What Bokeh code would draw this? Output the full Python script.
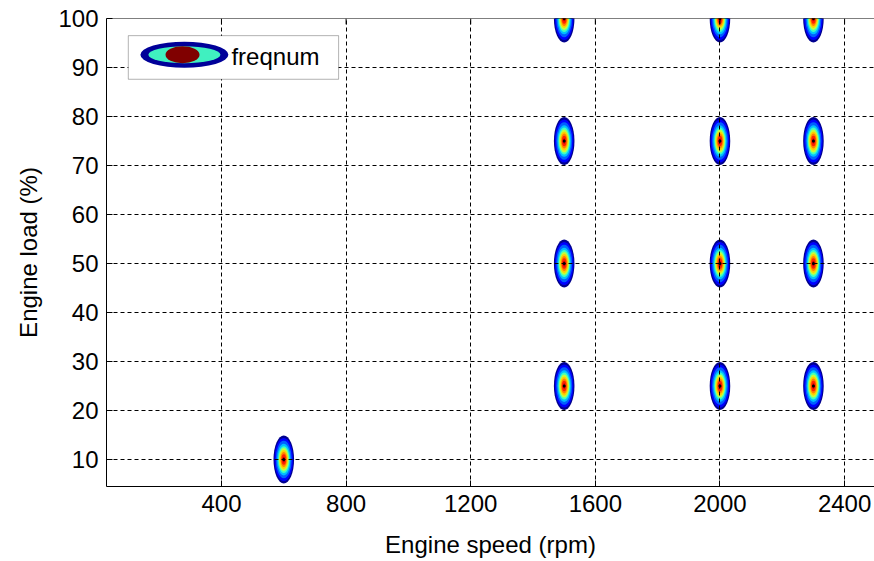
from bokeh.plotting import figure
from bokeh.models import Range1d, FixedTicker, BoxAnnotation, Label, Span
from bokeh.embed import file_html
from bokeh.resources import INLINE

# ---- data ----
speed = [600, 1500, 1500, 1500, 1500, 2000, 2000, 2000, 2000, 2300, 2300, 2300, 2300]
load = [10, 25, 50, 75, 100, 25, 50, 75, 100, 25, 50, 75, 100]
x_ticks = [400, 800, 1200, 1600, 2000, 2400]
y_ticks = [10, 20, 30, 40, 50, 60, 70, 80, 90, 100]
legend_label = "freqnum"
x_label = "Engine speed (rpm)"
y_label = "Engine load (%)"

# ---- styles ----
FONT = "Liberation Sans"
FS = "24px"
X0, X1 = 31, 2496
Y0, Y1 = 4.5, 100
BLOB_W = 66.0     # rpm
BLOB_H = 9.8      # %
TICK_LEN = 1.2    # top tick length in load units (~6 px)
levels = [(1.00, "#00008F"), (0.90, "#0000FF"), (0.78, "#0060FF"), (0.66, "#00BFFF"),
          (0.56, "#40FFBF"), (0.48, "#BFFF40"), (0.40, "#FFCF00"), (0.31, "#FF8000"),
          (0.22, "#FF2000"), (0.12, "#C00000")]

p = figure(width=874, height=561, x_range=Range1d(X0, X1), y_range=Range1d(Y0, Y1),
           output_backend="svg", toolbar_location=None,
           min_border_left=106, min_border_right=0, min_border_top=18, min_border_bottom=75,
           x_axis_label=x_label, y_axis_label=y_label)
p.outline_line_color = None
p.background_fill_color = "white"
p.border_fill_color = "white"

for frac, col in levels:
    p.ellipse(x=speed, y=load, width=BLOB_W * frac, height=BLOB_H * frac,
              fill_color=col, line_color=None)
p.scatter(x=speed, y=load, size=3, marker="circle", fill_color="black", line_color=None)

for ax in (p.xaxis[0], p.yaxis[0]):
    ax.axis_line_color = "black"
    ax.axis_line_width = 1
    ax.major_tick_line_color = "black"
    ax.major_tick_in = 6
    ax.major_tick_out = 0
    ax.minor_tick_line_color = None
    ax.major_label_text_font = FONT
    ax.major_label_text_font_size = FS
    ax.major_label_text_color = "black"
    ax.axis_label_text_font = FONT
    ax.axis_label_text_font_size = FS
    ax.axis_label_text_font_style = "normal"
    ax.axis_label_text_color = "black"

p.xaxis.ticker = FixedTicker(ticks=x_ticks)
p.yaxis.ticker = FixedTicker(ticks=y_ticks)
p.xaxis.major_label_standoff = 8
p.yaxis.major_label_standoff = 8
p.xaxis.axis_label_standoff = 16
p.yaxis.axis_label_standoff = 13

# top frame line with inward ticks
p.add_layout(Span(location=Y1, dimension="width", line_color="black", line_width=1))
top_ticks = p.segment(x0=x_ticks, y0=[Y1] * len(x_ticks), x1=x_ticks,
                      y1=[Y1 - TICK_LEN] * len(x_ticks), line_color="black", line_width=1)

for g, t in ((p.xgrid[0], x_ticks), (p.ygrid[0], y_ticks)):
    g.ticker = FixedTicker(ticks=t)
    g.grid_line_color = "black"
    g.grid_line_dash = "4 3"
    g.grid_line_width = 1
    g.level = "guide"

# ---- legend (drawn manually) ----
box = BoxAnnotation(left=101, right=776, top=96.5, bottom=87.6,
                    fill_color="white", fill_alpha=1.0, line_color="black", line_width=1)
p.add_layout(box)
for w, h, col, dx in ((88, 26, "#000099", 0), (72, 17, "#40F0C0", 0), (34, 17, "#800000", -6)):
    r = p.ellipse(x=[281 + dx], y=[92.6], width=w, height=h, width_units="screen",
                  height_units="screen", fill_color=col, line_color=None)
    r.level = "overlay"
lab = Label(x=432, y=92.2, text=legend_label, text_font=FONT, text_font_size=FS,
            text_baseline="middle", text_color="black")
lab.level = "overlay"
p.add_layout(lab)

open("out.html", "w").write(file_html(p, INLINE))
